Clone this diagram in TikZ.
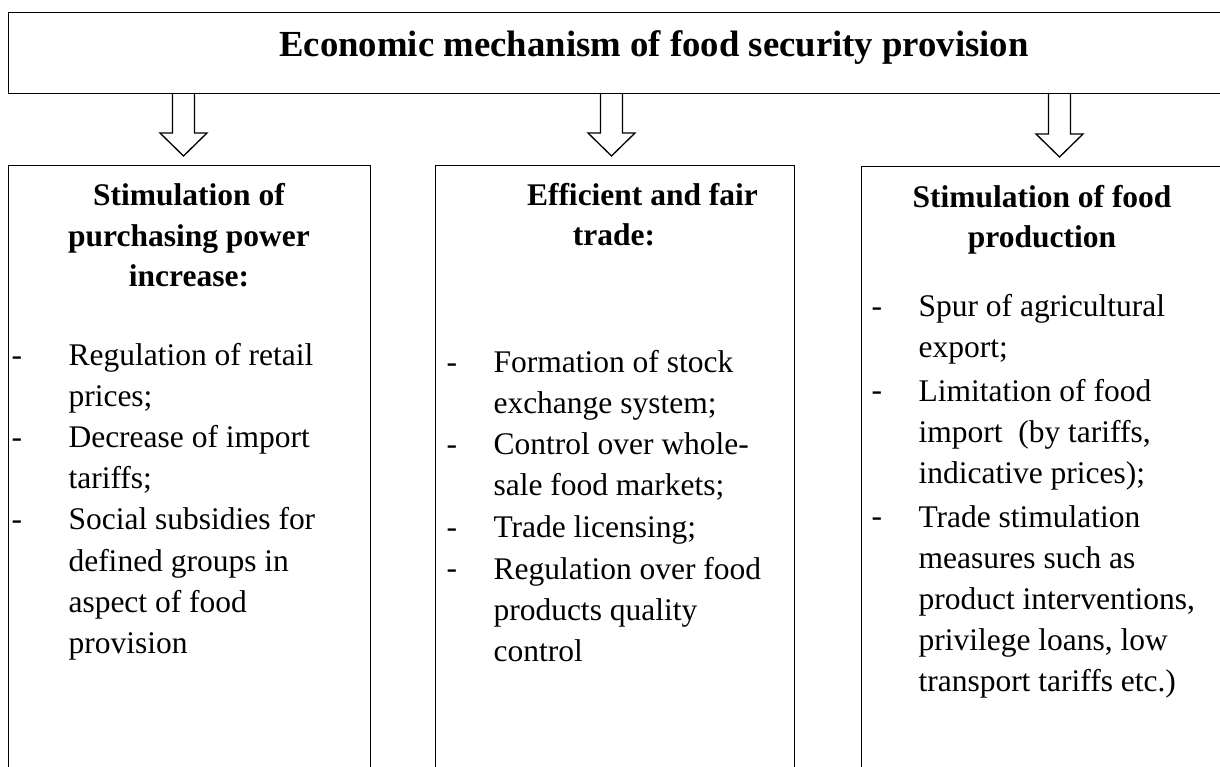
\documentclass[tikz,border=0pt]{standalone}
\usepackage{fontspec}
\setmainfont{Liberation Serif}

\newcommand{\pxu}{0.381pt}

% anchor=base sits on the last line of a multi-line node
\tikzset{
	frame/.style={rectangle, draw=black, line width=0.5pt, inner sep=0pt, anchor=north west},
	head/.style={font=\fontsize{12}{15.6}\selectfont\bfseries, align=center, anchor=base, inner sep=0pt},
	item/.style={font=\fontsize{12}{15.7}\selectfont, align=left, anchor=base west, inner sep=0pt},
	bullet/.style={font=\fontsize{12}{15.7}\selectfont, anchor=base west, inner sep=0pt},
	blockarrow/.style={draw=black, line width=0.5pt, line join=miter},
}

\begin{document}
\begin{tikzpicture}[x=\pxu, y=-\pxu]

	\useasboundingbox (0,0) rectangle (1220,767);
	\clip (0,0) rectangle (1220,767);

	% title
	\node[frame, minimum width=1217*\pxu, minimum height=81*\pxu] (top) at (8,12) {};
	\node[font=\fontsize{14}{17}\selectfont\bfseries, anchor=base, inner sep=0pt] (ttl) at (654,57) {Economic mechanism of food security provision};

	% the three columns
	\node[frame, minimum width=362*\pxu, minimum height=700*\pxu] (box1) at (8,165) {};
	\node[frame, minimum width=359*\pxu, minimum height=700*\pxu] (box2) at (435,165) {};
	\node[frame, minimum width=362*\pxu, minimum height=700*\pxu] (box3) at (861,166) {};

	\coordinate (t1) at (183.5,93);
	\coordinate (t2) at (611.5,93);
	\coordinate (t3) at (1059.5,93);

	\draw[blockarrow] (t1) ++(-11,0) -- ++(0,40) -- ++(-12.5,0) -- ++(23.5,23) -- ++(23.5,-23) -- ++(-12.5,0) -- ++(0,-40);
	\draw[blockarrow] (t2) ++(-11,0) -- ++(0,40) -- ++(-12.5,0) -- ++(23.5,23) -- ++(23.5,-23) -- ++(-12.5,0) -- ++(0,-40);
	\draw[blockarrow] (t3) ++(-11,0) -- ++(0,41) -- ++(-12.5,0) -- ++(23.5,23) -- ++(23.5,-23) -- ++(-12.5,0) -- ++(0,-41);

	% column 1
	\node[head] (h1) at (189,287) {Stimulation of\\purchasing power\\increase:};

	\node[bullet] (d11) at (11,366) {-};
	\node[item] (i11) at (68,407) {Regulation of retail\\prices;};
	\node[bullet] (d12) at (11,448) {-};
	\node[item] (i12) at (68,489) {Decrease of import\\tariffs;};
	\node[bullet] (d13) at (11,530) {-};
	\node[item] (i13) at (68,653.5) {Social subsidies for\\defined groups in\\aspect of food\\provision};

	% column 2
	\node[head] (h2) at (614,246) {\hspace*{21.7pt}Efficient and fair\\trade:};

	\node[bullet] (d21) at (446,373) {-};
	\node[item] (i21) at (493,414) {Formation of stock\\exchange system;};
	\node[bullet] (d22) at (446,455) {-};
	\node[item] (i22) at (493,496) {Control over whole-\\sale food markets;};
	\node[bullet] (d23) at (446,538) {-};
	\node[item] (i23) at (493,538) {Trade licensing;};
	\node[bullet] (d24) at (446,579) {-};
	\node[item] (i24) at (493,661.5) {Regulation over food\\products quality\\control};

	% column 3
	\node[head] (h3) at (1042,248) {Stimulation of food\\production};

	\node[bullet] (d31) at (871,317) {-};
	\node[item] (i31) at (918,358) {Spur of agricultural\\export;};
	\node[bullet] (d32) at (871,401) {-};
	\node[item] (i32) at (918,483.5) {Limitation of food\\import~ (by tariffs,\\indicative prices);};
	\node[bullet] (d33) at (871,527) {-};
	\node[item] (i33) at (918,692) {Trade stimulation\\measures such as\\product interventions,\\privilege loans, low\\transport tariffs etc.)};

\end{tikzpicture}
\end{document}
